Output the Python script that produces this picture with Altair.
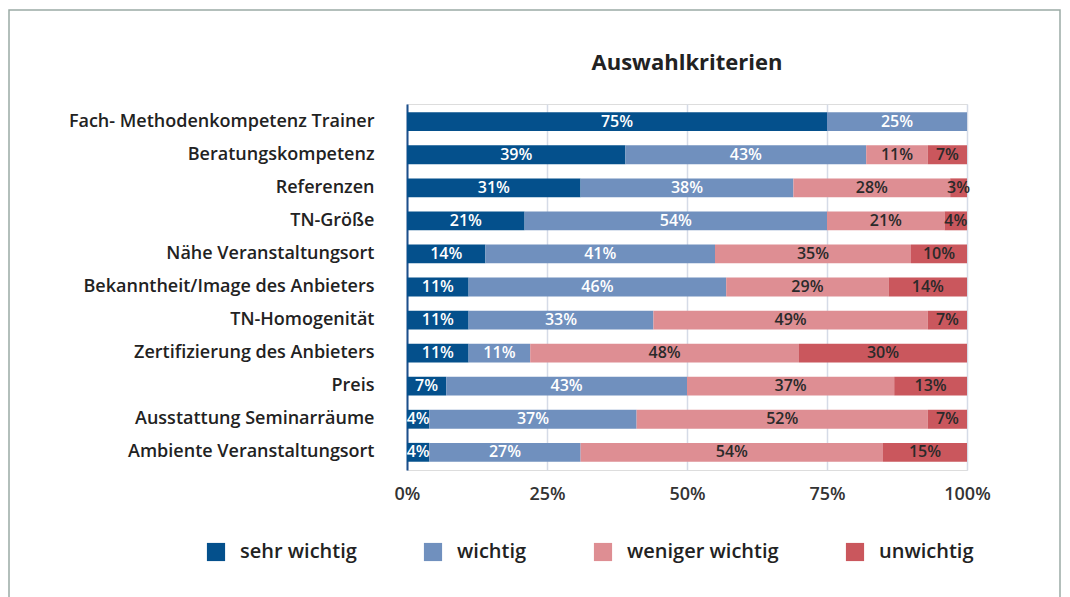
import altair as alt
import pandas as pd

criteria = [
    "Fach- Methodenkompetenz Trainer",
    "Beratungskompetenz",
    "Referenzen",
    "TN-Größe",
    "Nähe Veranstaltungsort",
    "Bekanntheit/Image des Anbieters",
    "TN-Homogenität",
    "Zertifizierung des Anbieters",
    "Preis",
    "Ausstattung Seminarräume",
    "Ambiente Veranstaltungsort",
]
levels = ["sehr wichtig", "wichtig", "weniger wichtig", "unwichtig"]
sehr_wichtig = [75, 39, 31, 21, 14, 11, 11, 11, 7, 4, 4]
wichtig = [25, 43, 38, 54, 41, 46, 33, 11, 43, 37, 27]
weniger_wichtig = [0, 11, 28, 21, 35, 29, 49, 48, 37, 52, 54]
unwichtig = [0, 7, 3, 4, 10, 14, 7, 30, 13, 7, 15]
colors = ["#04508c", "#7090be", "#de8e93", "#ca575d"]
text_colors = ["#ffffff", "#ffffff", "#2a2a2a", "#2a2a2a"]
x_ticks = [0, 25, 50, 75, 100]
title_text = "Auswahlkriterien"

series = [sehr_wichtig, wichtig, weniger_wichtig, unwichtig]
rows = []
for li, (lvl, vals) in enumerate(zip(levels, series)):
    for c, v in zip(criteria, vals):
        if v > 0:
            rows.append({"Kriterium": c, "Stufe": lvl, "ord": li, "Wert": v,
                         "tc": text_colors[li]})
df = pd.DataFrame(rows)

FONT = "Open Sans"

base = alt.Chart(df).transform_stack(
    stack="Wert", groupby=["Kriterium"], as_=["x0", "x1"],
    sort=[alt.SortField("ord", order="ascending")]
).transform_calculate(
    mid="(datum.x0 + datum.x1) / 2",
    lab="datum.Wert + '%'"
)

y_enc = alt.Y("Kriterium:N", sort=criteria, title=None,
              scale=alt.Scale(paddingInner=0.43, paddingOuter=0.25),
              axis=alt.Axis(labelFontSize=18, labelFont=FONT, labelFontWeight=600,
                            labelColor="#222222", labelPadding=33, ticks=False,
                            domainColor="#1c4f8c", domainWidth=2, labelLimit=400))

bars = base.mark_bar().encode(
    x=alt.X("x0:Q", title=None,
            scale=alt.Scale(domain=[0, 100], nice=False),
            axis=alt.Axis(values=x_ticks, labelExpr="datum.value + '%'",
                          labelFontSize=18, labelFont=FONT, labelFontWeight=600,
                          labelColor="#333333", labelPadding=15, ticks=False,
                          labelFlush=False,
                          domain=False, grid=True, gridColor="#d5dbe7",
                          gridWidth=1.5)),
    x2="x1:Q",
    y=y_enc,
    color=alt.Color("Stufe:N", sort=levels,
                    scale=alt.Scale(domain=levels, range=colors),
                    legend=alt.Legend(title=None, orient="none", legendX=-201,
                                      legendY=438, direction="horizontal",
                                      symbolType="square", symbolSize=330,
                                      symbolStrokeWidth=0, labelFontSize=20,
                                      labelFont=FONT, labelFontWeight=600,
                                      labelColor="#222222", labelOffset=14,
                                      columnPadding=66)),
)

texts = base.mark_text(fontSize=16, font=FONT, fontWeight=600).encode(
    x=alt.X("mid:Q"),
    y=alt.Y("Kriterium:N", sort=criteria),
    text="lab:N",
    color=alt.Color("tc:N", scale=None),
)

title = alt.Chart(alt.Data(values=[{"t": title_text}])).mark_text(
    fontSize=22, font=FONT, fontWeight="bold", color="#222222",
    align="center", baseline="middle"
).encode(
    x=alt.value(280), y=alt.value(-41), text="t:N"
)

frame = alt.Chart(alt.Data(values=[{"a": 1}])).mark_rect(
    fill=None, stroke="#9aaba5", strokeWidth=1.5, clip=False
).encode(
    x=alt.value(-398), x2=alt.value(653),
    y=alt.value(-94), y2=alt.value(540),
)

chart = alt.layer(bars, texts, title, frame).properties(
    width=560, height=366,
    autosize=alt.AutoSizeParams(type="none"),
    padding={"left": 399, "top": 96, "right": 95, "bottom": 130},
).configure_view(stroke=None).configure(background="white")

chart.save("out.html", embed_options={"renderer": "svg", "actions": False})
